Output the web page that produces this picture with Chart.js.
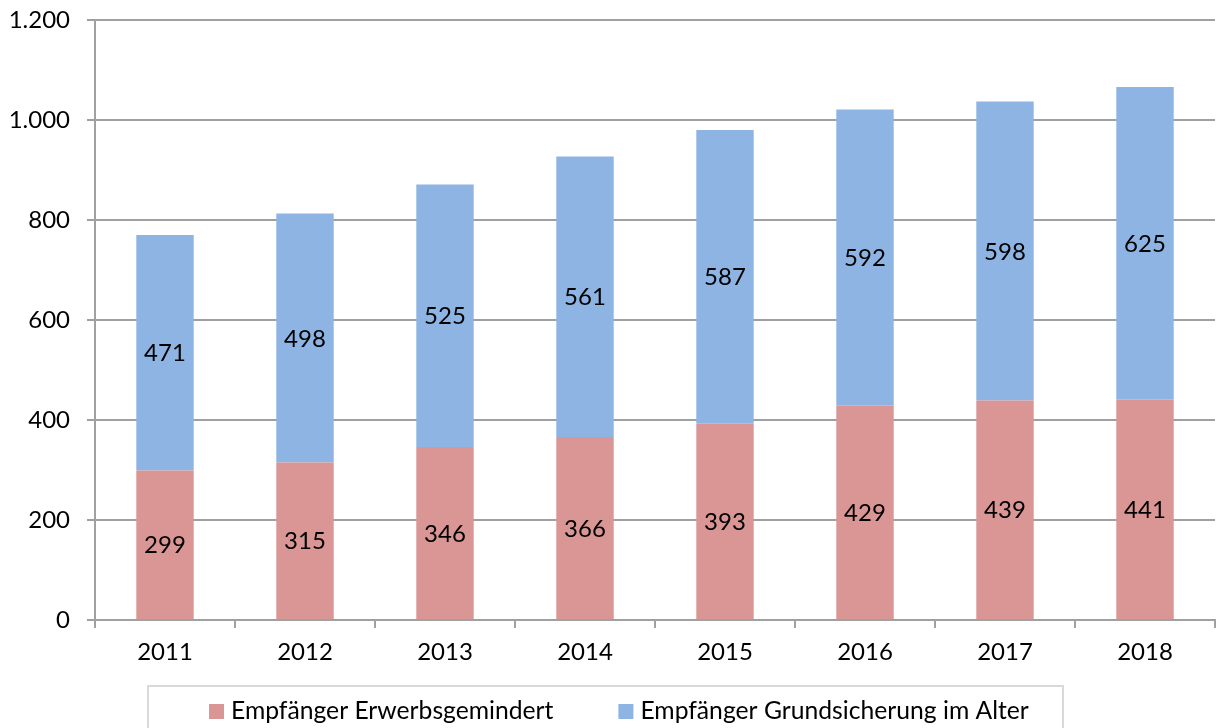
<!DOCTYPE html>
<html lang="de">
<head>
  <meta charset="UTF-8" />
  <title>Empfänger Grundsicherung</title>
  <script src="https://cdn.jsdelivr.net/npm/chart.js"></script>
<style>
  html, body {
    margin: 0;
    padding: 0;
    background: #ffffff;
    width: 1219px;
    height: 728px;
    overflow: hidden;
  }
  .container {
    width: 1219px;
    height: 728px;
  }
</style>
</head>
<body>
  <div class="container">
    <canvas id="grafik"></canvas>
  </div>

  <script>
    const jahre = ['2011', '2012', '2013', '2014', '2015', '2016', '2017', '2018'];
    const erwerbsgemindert = [299, 315, 346, 366, 393, 429, 439, 441];
    const grundsicherungAlter = [471, 498, 525, 561, 587, 592, 598, 625];
    const serienNamen = ['Empfänger Erwerbsgemindert', 'Empfänger Grundsicherung im Alter'];
    const farben = ['#d99694', '#8eb4e3'];

    const schrift = 'Lato, "Open Sans", sans-serif';
    const gitterFarbe = '#a0a0a0';

    function deutscheZahl(v) {
      return String(v).replace(/\B(?=(\d{3})+(?!\d))/g, '.');
    }

    // Werte mittig in die Segmente schreiben
    const segmentWerte = {
      id: 'segmentWerte',
      afterDatasetsDraw(chart) {
        const ctx = chart.ctx;
        ctx.save();
        ctx.font = '24px ' + schrift;
        ctx.fillStyle = '#000000';
        ctx.textAlign = 'center';
        ctx.textBaseline = 'middle';
        chart.data.datasets.forEach((ds, i) => {
          const meta = chart.getDatasetMeta(i);
          meta.data.forEach((bar, j) => {
            const p = bar.getProps(['x', 'y', 'base'], true);
            ctx.fillText(String(ds.data[j]), p.x, (p.y + p.base) / 2 + 1);
          });
        });
        ctx.restore();
      }
    };

    // Legende unten mit Rahmen
    const legendeBox = {
      id: 'legendeBox',
      afterDraw(chart) {
        const ctx = chart.ctx;
        ctx.save();
        ctx.strokeStyle = '#d9d9d9';
        ctx.lineWidth = 2;
        ctx.strokeRect(148, 686, 915, 60);
        ctx.font = '24.7px ' + schrift;
        ctx.textBaseline = 'middle';
        ctx.textAlign = 'left';
        let x = 209;
        const y = 711;
        chart.data.datasets.forEach((ds) => {
          ctx.fillStyle = ds.backgroundColor;
          ctx.fillRect(x, y - 7, 15, 15);
          ctx.fillStyle = '#000000';
          ctx.fillText(ds.label, x + 22, y);
          x += 22 + ctx.measureText(ds.label).width + 65;
        });
        ctx.restore();
      }
    };

    const ctx = document.getElementById('grafik').getContext('2d');
    new Chart(ctx, {
      type: 'bar',
      data: {
        labels: jahre,
        datasets: [
          { label: serienNamen[0], data: erwerbsgemindert, backgroundColor: farben[0] },
          { label: serienNamen[1], data: grundsicherungAlter, backgroundColor: farben[1] }
        ]
      },
      options: {
        responsive: true,
        maintainAspectRatio: false,
        animation: false,
        events: [],
        datasets: {
          bar: { categoryPercentage: 1.0, barPercentage: 0.41 }
        },
        layout: {
          padding: { top: 20, right: 4, bottom: 58, left: 0 }
        },
        scales: {
          x: {
            stacked: true,
            afterFit(scale) { scale.height = 50; },
            border: { display: true, color: gitterFarbe, width: 2 },
            grid: {
              display: true,
              drawOnChartArea: false,
              drawTicks: true,
              tickLength: 8,
              color: gitterFarbe,
              lineWidth: 2,
              offset: true
            },
            ticks: {
              color: '#000000',
              padding: 10,
              font: { family: schrift, size: 24 }
            }
          },
          y: {
            stacked: true,
            min: 0,
            max: 1200,
            afterFit(scale) {
              scale.width = 95;
              scale.paddingTop = 0;
              scale.paddingBottom = 0;
            },
            border: { display: true, color: gitterFarbe, width: 2 },
            grid: {
              color: gitterFarbe,
              lineWidth: 2,
              tickLength: 8
            },
            ticks: {
              stepSize: 200,
              color: '#000000',
              padding: 17,
              font: { family: schrift, size: 24 },
              callback: function(value) {
                return deutscheZahl(value);
              }
            }
          }
        },
        plugins: {
          legend: { display: false },
          tooltip: { enabled: false }
        }
      },
      plugins: [segmentWerte, legendeBox]
    });
  </script>
</body>
</html>
